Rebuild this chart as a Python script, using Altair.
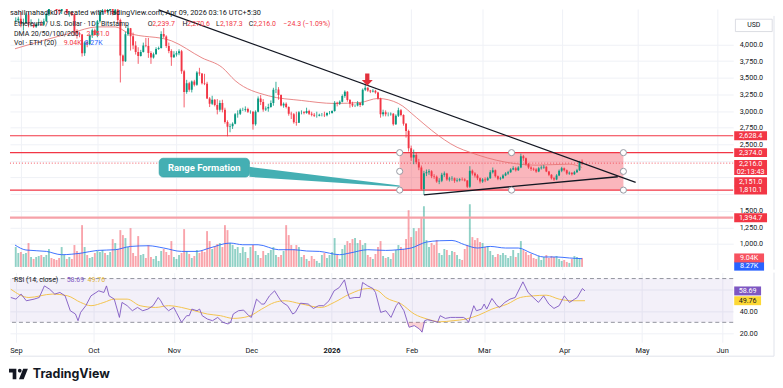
import altair as alt
import pandas as pd

FONT = "Roboto"
INK = "#131722"
UP, DN = "#089981", "#f23645"

# ---------------- daily candles  (Bitstamp ETH/USD, 1D) ----------------
start_date = "2025-08-30"
first_open = 4360
close_aug = [4365, 4390]
high_aug = [4410, 4420]
low_aug = [4330, 4330]

close_sep = [4310, 4330, 4450, 4300, 4300, 4270, 4305, 4310, 4300, 4350, 4460, 4720, 4670, 4610, 4520,
             4500, 4590, 4590, 4470, 4480, 4450, 4200, 4170, 4150, 3870, 4030, 4010, 4140, 4215, 4145]
high_sep = [4490, 4390, 4480, 4490, 4380, 4320, 4330, 4390, 4360, 4390, 4480, 4760, 4770, 4700, 4680,
            4540, 4600, 4640, 4620, 4500, 4500, 4460, 4230, 4190, 4160, 4050, 4060, 4160, 4240, 4240]
low_sep = [4260, 4210, 4320, 4260, 4270, 4250, 4250, 4290, 4280, 4280, 4340, 4430, 4640, 4540, 4450,
           4460, 4460, 4550, 4450, 4420, 4430, 4130, 4090, 4110, 3820, 3830, 3960, 3990, 4100, 4140]

close_oct = [4350, 4490, 4515, 4485, 4515, 4685, 4460, 4525, 4370, 3835, 3750, 4155, 4245, 4125, 3985, 3890,
             3830, 3890, 3985, 3980, 3875, 3805, 3855, 3935, 3950, 4160, 4120, 3980, 3905, 3810, 3850]
high_oct = [4370, 4520, 4590, 4540, 4580, 4760, 4720, 4540, 4550, 4390, 3850, 4190, 4290, 4250, 4180, 4050,
            3960, 3920, 4030, 4100, 4100, 3900, 3880, 3960, 3970, 4200, 4250, 4140, 4030, 3930, 3900]
low_oct = [4110, 4330, 4450, 4460, 4480, 4500, 4440, 4450, 4320, 3430, 3680, 3740, 4130, 3910, 3930, 3850,
           3710, 3820, 3880, 3960, 3800, 3710, 3790, 3850, 3920, 3940, 4100, 3950, 3870, 3680, 3800]

close_nov = [3870, 3900, 3600, 3285, 3420, 3320, 3445, 3395, 3580, 3565, 3420, 3410, 3190, 3110, 3170,
             3090, 3020, 3120, 3020, 2835, 2765, 2770, 2810, 2950, 2960, 3020, 3020, 3030, 2990, 2990]
high_nov = [3900, 3930, 3920, 3620, 3470, 3440, 3460, 3470, 3600, 3650, 3570, 3560, 3440, 3210, 3230,
            3180, 3180, 3160, 3170, 3050, 2860, 2810, 2830, 2970, 3010, 3040, 3050, 3070, 3050, 3010]
low_nov = [3820, 3840, 3560, 3055, 3260, 3290, 3280, 3370, 3380, 3530, 3400, 3390, 3180, 3060, 3090,
           3070, 2950, 2990, 2980, 2810, 2620, 2680, 2730, 2800, 2900, 2940, 3000, 2990, 2970, 2960]

close_dec = [2800, 2990, 3190, 3135, 3025, 3040, 3060, 3120, 3320, 3325, 3240, 3085, 3110, 3060, 2960, 2950,
             2830, 2825, 2980, 2980, 2970, 3000, 2960, 2945, 2930, 2930, 2945, 2945, 2935, 2970, 2970]
high_dec = [3000, 3010, 3220, 3240, 3180, 3070, 3110, 3160, 3350, 3440, 3360, 3250, 3130, 3130, 3070, 2990,
            2970, 2990, 3000, 3010, 3000, 3050, 3020, 2990, 2970, 2990, 2960, 2970, 2990, 2980, 3000]
low_dec = [2720, 2780, 2980, 3090, 2990, 3000, 2990, 3050, 3080, 3270, 3170, 3070, 3050, 3040, 2930, 2880,
           2810, 2780, 2820, 2950, 2950, 2960, 2940, 2920, 2910, 2900, 2920, 2920, 2910, 2920, 2950]

close_jan = [3000, 3125, 3110, 3140, 3225, 3290, 3165, 3110, 3085, 3085, 3120, 3090, 3320, 3350, 3310, 3295,
             3305, 3280, 3190, 2950, 2980, 2950, 2950, 2960, 2800, 2930, 3010, 2940, 2810, 2700, 2440]
high_jan = [3010, 3150, 3140, 3160, 3250, 3310, 3300, 3180, 3140, 3100, 3150, 3130, 3340, 3400, 3360, 3320,
            3330, 3320, 3290, 3200, 3020, 3010, 2980, 2980, 2970, 2950, 3050, 3030, 2950, 2820, 2720]
low_jan = [2960, 2990, 3070, 3090, 3130, 3200, 3140, 3050, 3060, 3060, 3070, 3060, 3080, 3300, 3290, 3270,
           3280, 3260, 3170, 2900, 2920, 2920, 2920, 2930, 2780, 2790, 2910, 2920, 2780, 2600, 2390]

close_feb = [2300, 2340, 2230, 2150, 1825, 2065, 2080, 2095, 2020, 2010, 1940, 1950, 2040, 2060,
             1970, 1985, 1990, 1950, 1960, 1975, 1970, 1955, 1860, 2100, 2060, 2030, 1990, 1940]
high_feb = [2480, 2420, 2370, 2280, 2180, 2100, 2120, 2125, 2110, 2050, 2030, 1990, 2070, 2090,
            2070, 2010, 2020, 2000, 1990, 1990, 2000, 1990, 1960, 2170, 2120, 2080, 2050, 2000]
low_feb = [2250, 2200, 2200, 2110, 1810, 1740, 2020, 2040, 1990, 1980, 1920, 1900, 1930, 2010,
           1950, 1940, 1950, 1920, 1930, 1940, 1950, 1940, 1840, 1840, 2030, 2000, 1960, 1910]

close_mar = [1970, 1960, 1990, 2080, 2110, 2020, 1980, 1990, 2030, 2060, 2080, 2120, 2140, 2110, 2150, 2320,
             2290, 2200, 2150, 2130, 2120, 2090, 2140, 2150, 2160, 2090, 2040, 1990, 1970, 2030, 2100]
high_mar = [1990, 2000, 2010, 2110, 2150, 2120, 2030, 2010, 2050, 2080, 2100, 2140, 2170, 2160, 2170, 2360,
            2340, 2300, 2220, 2170, 2150, 2140, 2160, 2180, 2190, 2170, 2100, 2050, 2010, 2050, 2120]
low_mar = [1920, 1930, 1950, 1980, 2060, 2000, 1960, 1960, 1980, 2020, 2040, 2070, 2110, 2090, 2100, 2140,
           2250, 2180, 2130, 2100, 2100, 2070, 2080, 2120, 2130, 2080, 2020, 1970, 1950, 1960, 2020]

close_apr = [2140, 2110, 2060, 2070, 2050, 2080, 2110, 2239.7, 2216.0]
high_apr = [2160, 2150, 2120, 2090, 2080, 2100, 2130, 2250, 2270.6]
low_apr = [2080, 2090, 2040, 2040, 2030, 2040, 2070, 2100, 2187.3]

# volume, thousands of ETH
vol_aug = [20, 14]
vol_sep = [15, 13, 14, 24, 10, 8, 10, 11, 12, 10, 12, 18, 9, 8, 7, 9, 20, 12, 8, 10, 8, 22, 16, 14, 42,
           20, 12, 9, 10, 14]
vol_oct = [16, 15, 17, 14, 12, 15, 28, 24, 18, 37, 32, 29, 20, 39, 14, 11, 31, 12, 13, 9, 22, 10, 8, 11, 6,
           16, 18, 15, 12, 26, 10]
vol_nov = [8, 12, 14, 38, 16, 13, 9, 11, 17, 14, 16, 15, 36, 26, 18, 21, 23, 24, 20, 42, 37, 24, 22, 18, 20,
           14, 20, 15, 9, 20]
vol_dec = [22, 16, 12, 9, 16, 12, 14, 17, 20, 12, 10, 12, 16, 42, 32, 22, 18, 22, 20, 10, 12, 8, 6, 11, 8,
           6, 4, 12, 14, 9, 12]
vol_jan = [15, 29, 12, 8, 18, 22, 26, 24, 28, 29, 24, 27, 22, 24, 12, 10, 8, 13, 20, 26, 11, 9, 10, 8, 14,
           17, 22, 20, 18, 28, 57]
vol_feb = [30, 39, 36, 39, 49, 61, 27, 20, 24, 22, 27, 14, 12, 18, 17, 12, 16, 15, 12, 8, 7, 18, 22, 63, 30,
           27, 29, 25]
vol_mar = [24, 20, 21, 16, 12, 10, 13, 12, 14, 12, 9, 11, 17, 10, 14, 26, 17, 15, 12, 13, 9, 8, 11, 7, 10,
           12, 9, 11, 10, 11, 8]
vol_apr = [6, 7, 5, 4, 8, 11, 10, 9, 9.04]

# indicators (day index: 0 = 2025-09-01)
dma_d = [-2.3, 20, 30, 37, 42, 59, 71, 79, 84, 97, 110, 123, 133, 140, 148, 155, 161, 171, 176, 190, 202, 215, 220]
dma_p = [3937, 4177, 4266, 4266, 4177, 4057, 3800, 3653, 3458, 3230, 3159, 3114, 3129, 3189, 3114, 2904, 2710,
         2455, 2380, 2231, 2186, 2201, 2151]

volma_d = [-2.3, 2, 10, 16, 24, 30, 37, 43, 50, 56, 63, 69, 74, 82, 87, 93, 101, 107, 112, 117, 125, 129, 136,
           143, 148, 153, 159, 164, 169, 174, 179, 184, 190, 195, 200, 205, 210, 215, 220]
volma_v = [22, 17, 15.6, 12.3, 14, 16.6, 17.3, 20.6, 21.3, 19, 15.6, 15.6, 19, 24, 22.3, 22.3, 17.3, 17.3, 16,
           15.6, 12.3, 14, 17.3, 16.6, 17.3, 19, 25, 26.3, 26.6, 22.3, 19, 20.6, 19, 19, 14, 10, 10, 9, 8.27]

rsi_d = [-2, 0, 2, 4, 7, 9, 11, 13, 15, 17, 19, 21, 23, 24, 25, 27, 29, 32, 34, 35, 36, 38, 40, 41, 43, 45, 47,
         49, 51, 53, 55, 56, 57, 59, 61, 62, 64, 66, 67, 68, 70, 71, 72, 74, 76, 78, 80, 82, 83, 84, 86, 88, 90,
         91, 93, 95, 96, 98, 100, 102, 103, 105, 107, 108, 110, 113, 115, 117, 119, 121, 123, 125, 127, 128,
         129, 131, 133, 134, 136, 138, 139, 141, 143, 145, 147, 148, 150, 151, 152, 154, 156, 157, 158, 159,
         161, 163, 164, 166, 168, 170, 173, 174, 175, 177, 178, 180, 181, 182, 184, 186, 187, 189, 191, 193,
         196, 198, 200, 202, 204, 206, 208, 210, 212, 214, 216, 217, 219, 220]
rsi_v = [52.7, 51.2, 55.8, 49.7, 51.2, 52.7, 63.3, 60.3, 55.8, 57.3, 54.2, 40.6, 37.6, 31.5, 39.1, 45.2, 54.2,
         58.8, 57.3, 63.3, 54.2, 51.2, 34.5, 48.2, 45.2, 40.6, 43.6, 40.6, 42.1, 45.2, 52.7, 49.7, 45.2, 40.6,
         43.6, 39.1, 30.0, 36.1, 36.1, 42.1, 40.6, 42.1, 36.1, 33.0, 31.5, 34.5, 30.0, 28.5, 30.0, 37.6, 40.6,
         41.2, 36.1, 34.5, 51.2, 46.7, 46.7, 54.2, 58.8, 51.2, 48.2, 45.2, 37.6, 39.1, 47.5, 46.7, 42.7, 45.2,
         45.2, 49.7, 58.8, 61.8, 68.8, 58.8, 51.8, 52.7, 52.7, 66.4, 63.3, 60.9, 57.3, 39.1, 40.6, 34.5, 45.2,
         48.2, 40.6, 33.0, 25.5, 27.0, 23.9, 21.0, 31.5, 32.4, 31.5, 30.0, 36.1, 33.6, 34.5, 34.5, 34.5, 33.0,
         30.0, 45.2, 40.6, 42.1, 46.7, 42.1, 51.8, 45.2, 43.6, 48.2, 51.2, 52.7, 67.0, 57.3, 52.7, 48.2, 54.2,
         46.7, 42.7, 45.2, 54.2, 48.2, 51.2, 52.7, 60.9, 58.69]
rsi_ma_d = [-2, 5, 14, 20, 25, 29, 34, 38, 43, 48, 54, 59, 64, 69, 74, 79, 84, 90, 95, 100, 104, 110, 118, 123,
            129, 136, 140, 143, 149, 154, 159, 164, 169, 174, 179, 184, 190, 195, 200, 205, 210, 215, 220]
rsi_ma_v = [60.3, 52.7, 55.8, 54.2, 48.2, 45.2, 48.2, 51.2, 51.2, 45.2, 43.6, 45.2, 43.6, 40.6, 37.6, 36.1, 33.6,
            35.5, 42.1, 48.2, 49.7, 47.0, 43.6, 48.2, 55.8, 60.9, 58.8, 52.7, 46.7, 37.6, 33.0, 30.5, 31.5,
            33.0, 36.7, 42.1, 46.7, 52.7, 54.2, 54.8, 51.2, 49.7, 49.76]

# drawings
level_p = [2628.4, 2374.0, 1810.1, 1394.7]
range_d = [148.5, 236.2]
range_p = [2374.0, 1810.1]
trend_down_d = [54, 241]
trend_down_p = [4522, 1928]
trend_up_d = [158, 234]
trend_up_p = [1740, 2011]
callout_d = [54.2, 89.6]
callout_p = [2290, 2006]
tail_d = [89.6, 148.5]
tail_top = [2160, 1880]
tail_bot = [2010, 1862]
arrow_d, arrow_p = 135.8, 3473
dma_last, vol_ma_last = 2151.0, 8.27
hidden_price_labels = [1750, 2000, 2250]

# ---------------- frames ----------------
closes = close_aug + close_sep + close_oct + close_nov + close_dec + close_jan + close_feb + close_mar + close_apr
highs = high_aug + high_sep + high_oct + high_nov + high_dec + high_jan + high_feb + high_mar + high_apr
lows = low_aug + low_sep + low_oct + low_nov + low_dec + low_jan + low_feb + low_mar + low_apr
vols = vol_aug + vol_sep + vol_oct + vol_nov + vol_dec + vol_jan + vol_feb + vol_mar + vol_apr
n = len(closes)
assert len(highs) == n and len(lows) == n and len(vols) == n, (n, len(highs), len(lows), len(vols))
assert len(rsi_d) == len(rsi_v) and len(rsi_ma_d) == len(rsi_ma_v)
assert len(volma_d) == len(volma_v) and len(dma_d) == len(dma_p)
dates = pd.date_range(start_date, periods=n, freq="D")
day = [(t - pd.Timestamp("2025-09-01")).days for t in dates]
opens = [first_open] + closes[:-1]
candles = pd.DataFrame({"d": day, "o": opens, "h": highs, "l": lows, "c": closes, "v": vols})
candles["v0"] = 0.0
last_close = closes[-1]

dma_df = pd.DataFrame({"d": dma_d, "p": dma_p})
volma_df = pd.DataFrame({"d": volma_d, "v": volma_v})
rsi_df = pd.DataFrame({"d": rsi_d, "r": rsi_v})
rsima_df = pd.DataFrame({"d": rsi_ma_d, "r": rsi_ma_v})
os_df = rsi_df[(rsi_df.d >= 151) & (rsi_df.d <= 158)].copy()
os_df["lo"] = os_df.r.clip(upper=30)
os_df["th"] = 30.0

trend_df = pd.DataFrame({"d": trend_down_d + trend_up_d, "p": trend_down_p + trend_up_p,
                         "g": ["down", "down", "up", "up"]})
range_df = pd.DataFrame({"x1": [range_d[0]], "x2": [range_d[1]], "p1": [range_p[0]], "p2": [range_p[1]]})
mid_d = (range_d[0] + range_d[1]) / 2
mid_p = (range_p[0] + range_p[1]) / 2
handles = pd.DataFrame({"d": [range_d[0], mid_d, range_d[1], range_d[0], range_d[1], range_d[0], mid_d, range_d[1]],
                        "p": [range_p[0]] * 3 + [mid_p] * 2 + [range_p[1]] * 3})
levels = pd.DataFrame({"p": level_p, "col": [DN, DN, DN, "#f6a1a8"], "w": [1.2, 1.2, 1.2, 2.2]})
callout_df = pd.DataFrame({"x1": [callout_d[0]], "x2": [callout_d[1]], "p1": [callout_p[0]], "p2": [callout_p[1]]})
tail_df = pd.DataFrame({"d": tail_d, "top": tail_top, "bot": tail_bot})
ptags = pd.DataFrame({"p": level_p, "t": [f"{v:,.1f}" for v in level_p]})

# ---------------- scales / axes ----------------
W, H_TOP, H_RSI = 727, 262, 70
XS = alt.Scale(domain=[-2.31, 277.3], nice=False, zero=False)
PS = alt.Scale(domain=[613.8, 4535.9], nice=False, zero=False)
VS = alt.Scale(domain=[-2.7, 259.3], nice=False, zero=False)
RS = alt.Scale(domain=[11.82, 75.45], nice=False, zero=False)
MONTH_D = [0, 30, 61, 91, 122, 153, 181, 212, 242, 273]
MONTH_L = ["Sep", "Oct", "Nov", "Dec", "2026", "Feb", "Mar", "Apr", "May", "Jun"]
GRID = "#eff1f6"

x_top_axis = alt.Axis(values=MONTH_D, labels=False, ticks=False, domain=False, grid=True,
                      gridColor=GRID, title=None)
label_expr = "[" + ",".join(f"'{m}'" for m in MONTH_L) + "][indexof([" + ",".join(str(v) for v in MONTH_D) + "], datum.value)]"
x_bot_axis = alt.Axis(values=MONTH_D, labelExpr=label_expr, grid=True, gridColor=GRID, ticks=False,
                      domain=False, labelFontSize=7.5, labelColor=INK, labelFont=FONT, labelPadding=4,
                      labelOverlap=False, labelFlush=False, title=None,
                      labelFontWeight=alt.condition("datum.value == 122", alt.value("bold"), alt.value("normal")))
price_label_expr = ("indexof([" + ",".join(str(v) for v in hidden_price_labels) +
                    "], datum.value) >= 0 ? '' : format(datum.value, ',.1f')")
p_axis = alt.Axis(orient="right", values=list(range(1000, 4001, 250)), labelExpr=price_label_expr,
                  labelFontSize=7.2, labelColor=INK, labelFont=FONT, grid=True, gridColor=GRID, ticks=False,
                  domain=False, labelPadding=6, labelOverlap=False, title=None)
r_axis = alt.Axis(orient="right", values=[20, 40, 60], labelExpr="datum.value == 60 ? '' : format(datum.value, '.2f')",
                  labelFontSize=7.2, labelColor=INK,
                  labelFont=FONT, grid=True, gridColor=GRID, ticks=False, domain=False, labelPadding=6,
                  labelOverlap=False, title=None)


def X(f):
    return alt.X(f, type="quantitative", scale=XS, axis=x_top_axis)


def XB(f):
    return alt.X(f, type="quantitative", scale=XS, axis=x_bot_axis)


def PY(f):
    return alt.Y(f, type="quantitative", scale=PS, axis=p_axis)


def VY(f):
    return alt.Y(f, type="quantitative", scale=VS, axis=None)


def RY(f):
    return alt.Y(f, type="quantitative", scale=RS, axis=r_axis)


one = pd.DataFrame({"k": [0]})


def label(txt, x, y, color=INK, size=7, weight="normal", align="left", font=FONT):
    return alt.Chart(one).mark_text(text=txt, x=x, y=y, color=color, fontSize=size, fontWeight=weight,
                                    align=align, baseline="middle", font=font).encode(opacity=alt.value(1))


def rect_path(w, h):
    r = h / w
    return f"M-1,{-r:.3f}L1,{-r:.3f}L1,{r:.3f}L-1,{r:.3f}Z"


def tag(df, yenc, cx, w, h, bg, fg="white", dy=0.0, ty=0.0, field="t"):
    shape = alt.Chart(df).mark_point(shape=rect_path(w, h), size=w * w, filled=True, opacity=1,
                                     strokeWidth=0, yOffset=dy).encode(x=alt.value(cx), y=yenc,
                                                                        color=alt.value(bg))
    text = alt.Chart(df).mark_text(font=FONT, fontSize=7.2, color=fg, align="center", baseline="middle",
                                   yOffset=ty).encode(x=alt.value(cx), y=yenc, text=alt.Text(field + ":N"))
    return [shape, text]


cond = alt.condition("datum.c >= datum.o", alt.value(UP), alt.value(DN))

# ---------------- volume overlay ----------------
vol_bars = alt.Chart(candles).mark_bar(size=1.9, opacity=0.45).encode(x=X("d"), y=VY("v"), y2="v0", color=cond)
vol_ma = alt.Chart(volma_df).mark_line(color="#2962ff", strokeWidth=0.9, interpolate="monotone").encode(
    x=X("d"), y=VY("v"))
vtag_b = pd.DataFrame({"v": [vol_ma_last], "t": [f"{vol_ma_last:.2f}K"]})
vtag_r = pd.DataFrame({"v": [vols[-1]], "t": [f"{vols[-1]:.2f}K"]})
vol_layer = alt.layer(vol_bars, vol_ma,
                      *tag(vtag_b, VY("v"), 743, 30, 9, "#2962ff", dy=7.5, ty=7.5),
                      *tag(vtag_r, VY("v"), 743, 30, 9, "#f7525f"))

# ---------------- price pane ----------------
range_rect = alt.Chart(range_df).mark_rect(color=DN, opacity=0.36).encode(
    x=X("x1"), x2="x2", y=PY("p1"), y2="p2")
level_rules = alt.Chart(levels).mark_rule().encode(
    y=PY("p"), color=alt.Color("col:N", scale=None), strokeWidth=alt.StrokeWidth("w:Q", scale=None))
now_line = alt.Chart(pd.DataFrame({"p": [last_close]})).mark_rule(
    color=DN, strokeDash=[1, 2], strokeWidth=1, opacity=0.85).encode(y=PY("p"))
dma_line = alt.Chart(dma_df).mark_line(color="#e57373", strokeWidth=1, opacity=0.85,
                                       interpolate="monotone", clip=True).encode(x=X("d"), y=PY("p"))
tail = alt.Chart(tail_df).mark_area(color="#44afb3").encode(x=X("d"), y=PY("top"), y2="bot")
callout = alt.Chart(callout_df).mark_rect(color="#44afb3", cornerRadius=4, stroke="#2f9ea2",
                                          strokeWidth=0.6).encode(x=X("x1"), x2="x2", y=PY("p1"), y2="p2")
callout_txt = alt.Chart(pd.DataFrame({"d": [(callout_d[0] + callout_d[1]) / 2],
                                      "p": [(callout_p[0] + callout_p[1]) / 2]})).mark_text(
    text="Range Formation", font=FONT, fontSize=9.5, fontWeight="bold", color="white").encode(
    x=X("d"), y=PY("p"))
wicks = alt.Chart(candles).mark_rule(strokeWidth=0.8, clip=True).encode(x=X("d"), y=PY("l"), y2="h", color=cond)
bodies = alt.Chart(candles).mark_bar(size=1.9, clip=True).encode(x=X("d"), y=PY("o"), y2="c", color=cond)
trend = alt.Chart(trend_df).mark_line(color=INK, strokeWidth=1.3, clip=True).encode(
    x=X("d"), y=PY("p"), detail="g:N")
handle_pts = alt.Chart(handles).mark_point(shape="circle", size=38, filled=True, fill="white",
                                           stroke="#9598a1", strokeWidth=1, opacity=1).encode(x=X("d"), y=PY("p"))
ARROW = "M-0.35,-1L0.35,-1L0.35,0.05L0.9,0.05L0,1L-0.9,0.05L-0.35,0.05Z"
arrow = alt.Chart(pd.DataFrame({"d": [arrow_d], "p": [arrow_p]})).mark_point(
    shape=ARROW, size=150, filled=True, opacity=1, color="#e2303c", strokeWidth=0).encode(x=X("d"), y=PY("p"))

now_df = pd.DataFrame({"p": [last_close], "t": [f"{last_close:,.1f}"], "t2": ["02:13:43"]})
dma_tag_df = pd.DataFrame({"p": [dma_last], "t": [f"{dma_last:,.1f}"]})
usd_box = alt.Chart(one).mark_point(shape=rect_path(37, 12.4), size=37 * 37, filled=True, fill="white",
                                    stroke="#d1d4dc", strokeWidth=0.8, opacity=1).encode(
    x=alt.value(747.7), y=alt.value(16.5))

price_layer = alt.layer(
    range_rect, level_rules, now_line, dma_line, tail, callout, callout_txt, wicks, bodies, trend,
    handle_pts, arrow,
    *tag(ptags, PY("p"), 744.5, 33, 9, DN),
    *tag(dma_tag_df, PY("p"), 744.5, 33, 9, DN, dy=14.4, ty=14.4),
    *tag(now_df, PY("p"), 744.5, 33, 15, DN, dy=4.3, ty=0.5),
    alt.Chart(now_df).mark_text(font=FONT, fontSize=7.2, color="white", yOffset=8.6).encode(
        x=alt.value(744.5), y=PY("p"), text="t2:N"),
    usd_box, label("USD", 747.7, 16.5, size=7, align="center"),
    label("sahilmahadik07 created with TradingView.com, Apr 09, 2026 03:16 UTC+5:30", 0, 4.5, size=7.4),
    label("Ethereum / U.S. Dollar · 1D · Bitstamp", 4, 15),
    label("O", 138.5, 15), label("2,239.7", 143, 15, color=DN),
    label("H", 173.5, 15), label("2,270.6", 178, 15, color=DN),
    label("L", 207, 15), label("2,187.3", 211, 15, color=DN),
    label("C", 240, 15), label("2,216.0", 244.5, 15, color=DN),
    label("−24.3 (−1.09%)", 275, 15, color=DN),
    label("DMA 20/50/100/200", 4, 25), label(f"{dma_last:,.1f}", 77, 25, color=DN),
    label("Vol · ETH (20)", 4, 34), label(f"{vols[-1]:.2f}K", 54, 34, color=DN),
    label(f"{vol_ma_last:.2f}K", 75, 34, color="#2962ff"),
    alt.Chart(one).mark_rule(color="#e0e3eb").encode(x=alt.value(768), y=alt.value(7), y2=alt.value(H_TOP)),
)

top = alt.layer(vol_layer, price_layer).resolve_scale(y="independent").properties(width=W, height=H_TOP)

# ---------------- RSI pane ----------------
band = alt.Chart(pd.DataFrame({"hi": [70], "lo": [30]})).mark_rect(color="#7e57c2", opacity=0.09).encode(
    x=alt.value(0), x2=alt.value(W), y=RY("hi"), y2="lo")
dashed = alt.Chart(pd.DataFrame({"lvl": [70, 30]})).mark_rule(color="#787b86", strokeDash=[4, 3],
                                                             strokeWidth=0.8).encode(y=RY("lvl"))
os_area = alt.Chart(os_df).mark_area(color=DN, opacity=0.22).encode(x=XB("d"), y=RY("lo"), y2="th")
rsi_ma_line = alt.Chart(rsima_df).mark_line(color="#f3c44f", strokeWidth=1, interpolate="monotone").encode(
    x=XB("d"), y=RY("r"))
rsi_line = alt.Chart(rsi_df).mark_line(color="#7e57c2", strokeWidth=0.9).encode(x=XB("d"), y=RY("r"))
rtag_p = pd.DataFrame({"r": [rsi_v[-1]], "t": [f"{rsi_v[-1]:.2f}"]})
rtag_y = pd.DataFrame({"r": [rsi_ma_v[-1]], "t": [f"{rsi_ma_v[-1]:.2f}"]})

LOGO = ("M-1,-0.556H-0.222V0.556H-0.611V-0.167H-1Z "
        "M-0.055,-0.361A0.194,0.194 0 1,0 0.333,-0.361A0.194,0.194 0 1,0 -0.055,-0.361Z "
        "M0.5,-0.556H1L0.556,0.556H0.056Z")
logo = alt.Chart(one).mark_point(shape=LOGO, size=19 * 19, filled=True, opacity=1, color=INK,
                                 strokeWidth=0).encode(x=alt.value(8.5), y=alt.value(102))

rsi_chart = alt.layer(
    band, dashed, os_area, rsi_ma_line, rsi_line,
    *tag(rtag_p, RY("r"), 741.5, 27, 9, "#7e57c2", field="t"),
    *tag(rtag_y, RY("r"), 741.5, 27, 9, "#fdd835", fg=INK, field="t"),
    label("RSI (14, close)", 4, 7), label(f"{rsi_v[-1]:.2f}", 57, 7, color="#7e57c2"),
    label(f"{rsi_ma_v[-1]:.2f}", 78, 7, color="#e0b12e"),
    alt.Chart(one).mark_rule(color="#e0e3eb").encode(x=alt.value(0), x2=alt.value(768), y=alt.value(84)),
    alt.Chart(one).mark_rule(color="#e0e3eb").encode(x=alt.value(768), y=alt.value(0), y2=alt.value(84)),
    logo,
    label("TradingView", 23, 102, size=12.5, weight="bold", font="Inter"),
).properties(width=W, height=H_RSI)

chart = alt.vconcat(top, rsi_chart, spacing=0).resolve_scale(x="independent").properties(
    padding=0, background="white").configure_view(stroke=None)

chart.save("out.html", embed_options={"renderer": "svg", "actions": False})
